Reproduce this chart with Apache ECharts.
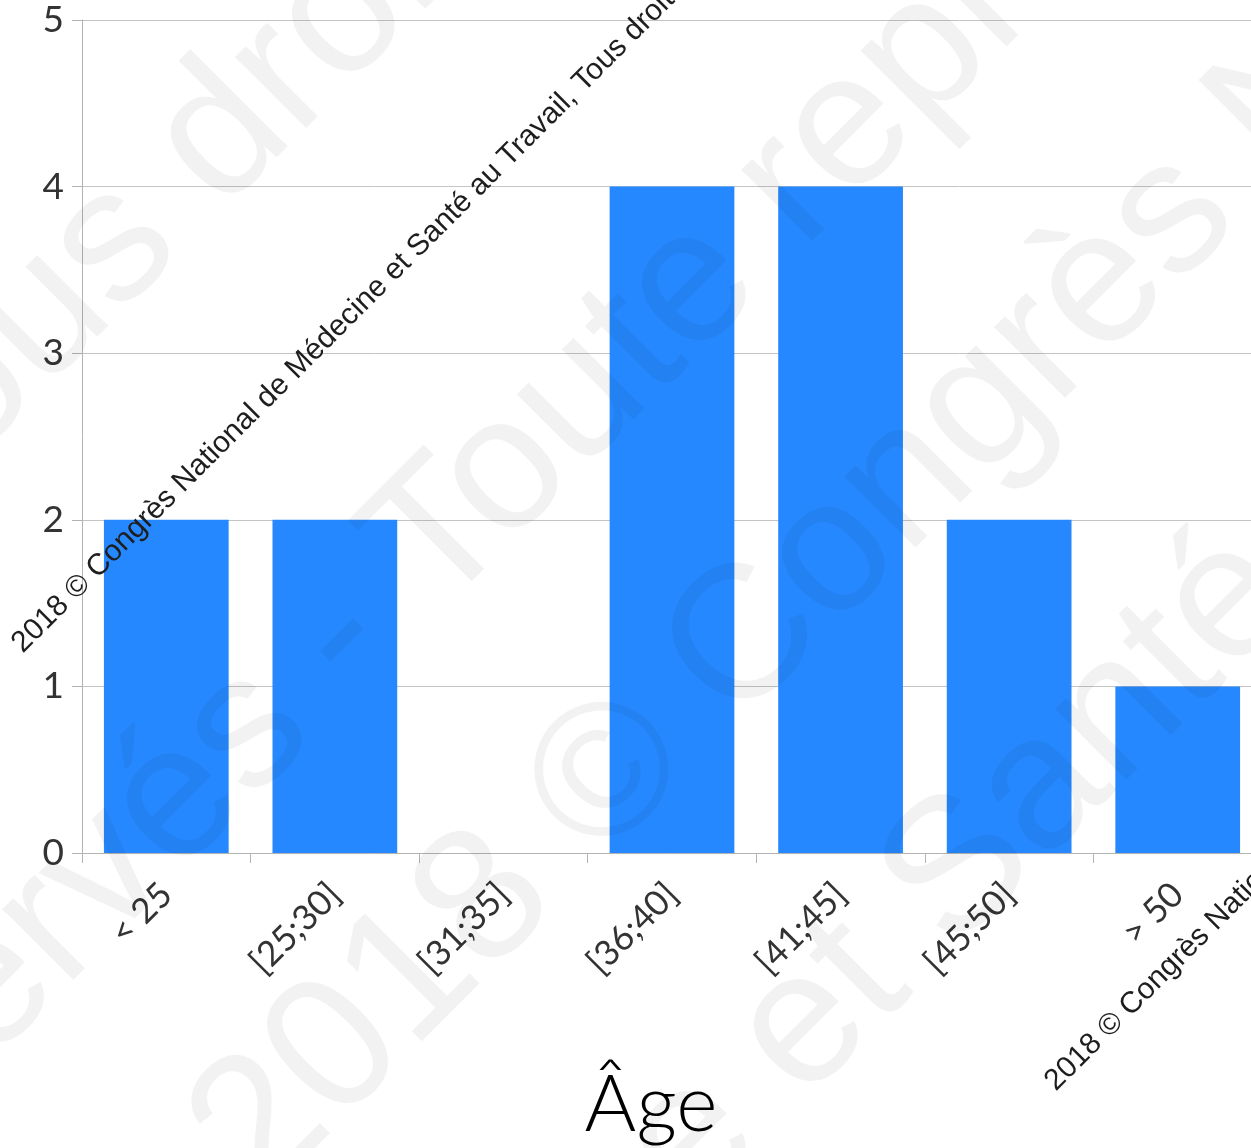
<!DOCTYPE html>
<html>
<head>
<meta charset="utf-8">
<script src="https://cdn.jsdelivr.net/npm/echarts@6/dist/echarts.min.js"></script>
<style>
  html, body { margin: 0; padding: 0; background: #ffffff; }
  #chart { width: 1251px; height: 1148px; }
</style>
</head>
<body>
<div id="chart"></div>
<script>
// Age brackets and number of respondents in each
const categories = ['< 25', '[25;30]', '[31;35]', '[36;40]', '[41;45]', '[45;50]', '> 50'];
const counts = [2, 2, 0, 4, 4, 2, 1];
const axisTitle = 'Âge';

// Copyright watermark texts
const creditLine = '2018 © Congrès National de Médecine et Santé au Travail, Tous droits réservés - Toute reproduction interdite';
const bigBefore = ['Santé au Travail - Tous ', 'Tous droits réservés ', 'reproduction interdite - ', '2018 © Congrès National de Médecine '];
const bigAfter = ['droits réservés - Toute reproduction interdite', '- Toute reproduction interdite', '2018 © Congrès National de Médecine et Santé au Travail', 'et Santé au Travail - Tous droits réservés'];

const ANGLE = Math.PI / 4;
const bigFont = '190px "Liberation Sans", Arial, sans-serif';
const bigFill = 'rgba(0,0,0,0.05)';
const smallFont = '30px "Liberation Sans", Arial, sans-serif';

// anchor points of the large diagonal watermark rows
const bigAnchors = [[185, 175], [318, 661], [225, 1164], [766, 1066]];
const smallAnchors = [[17, 648], [1050, 1086]];

const graphics = [];
bigAnchors.forEach(function (p, i) {
  graphics.push({
    type: 'text', x: p[0], y: p[1], rotation: ANGLE, z: 100, silent: true,
    style: { text: bigBefore[i], font: bigFont, fill: bigFill, align: 'right', verticalAlign: 'middle' }
  });
  graphics.push({
    type: 'text', x: p[0], y: p[1], rotation: ANGLE, z: 100, silent: true,
    style: { text: bigAfter[i], font: bigFont, fill: bigFill, align: 'left', verticalAlign: 'middle' }
  });
});
smallAnchors.forEach(function (p) {
  graphics.push({
    type: 'text', x: p[0], y: p[1], rotation: ANGLE, z: 101, silent: true,
    style: { text: creditLine, font: smallFont, fill: '#1e1e1e', align: 'left', verticalAlign: 'middle' }
  });
});

const chart = echarts.init(document.getElementById('chart'), null, { renderer: 'canvas' });
chart.setOption({
  backgroundColor: '#ffffff',
  animation: false,
  grid: { left: 82, width: 1180, top: 20, bottom: 295, containLabel: false, outerBoundsMode: 'none' },
  xAxis: {
    type: 'category',
    data: categories,
    boundaryGap: true,
    name: axisTitle,
    nameLocation: 'middle',
    nameGap: 213,
    nameTextStyle: {
      fontFamily: 'Lato', fontWeight: 300, fontSize: 79, color: '#000000',
      padding: [0, 42, 0, 0]
    },
    axisLine: { show: true, lineStyle: { color: '#b3b3b3', width: 1 } },
    axisTick: { show: true, length: 10, lineStyle: { color: '#b3b3b3' } },
    axisLabel: {
      rotate: 45, margin: 36, interval: 0,
      fontFamily: 'Lato', fontSize: 35, color: '#333333'
    },
    splitLine: { show: false }
  },
  yAxis: {
    type: 'value',
    min: 0, max: 5, interval: 1,
    axisLine: { show: true, lineStyle: { color: '#b3b3b3', width: 1 } },
    axisTick: { show: true, length: 10, lineStyle: { color: '#b3b3b3' } },
    axisLabel: { margin: 18, fontFamily: 'Lato', fontSize: 37, color: '#333333' },
    splitLine: { show: true, lineStyle: { color: '#c4c4c4', width: 1 } }
  },
  series: [{
    type: 'bar',
    data: counts,
    barWidth: '74%',
    itemStyle: { color: '#2688ff' },
    emphasis: { disabled: true }
  }],
  graphic: graphics
});
</script>
</body>
</html>
